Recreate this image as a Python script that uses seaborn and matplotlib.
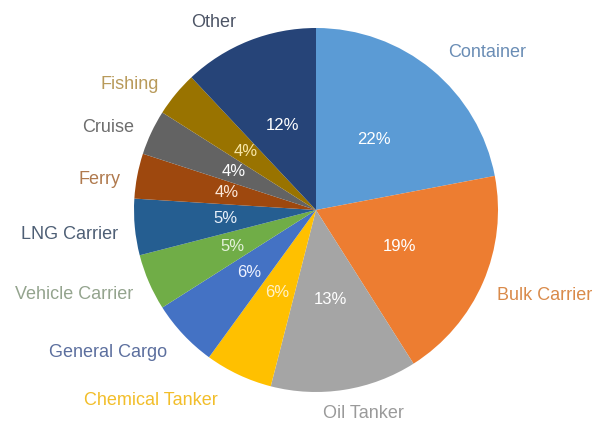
import matplotlib
matplotlib.use("Agg")
import matplotlib.pyplot as plt
import seaborn as sns

categories = ["Container", "Bulk Carrier", "Oil Tanker", "Chemical Tanker", "General Cargo",
              "Vehicle Carrier", "LNG Carrier", "Ferry", "Cruise", "Fishing", "Other"]
shares = [22, 19, 13, 6, 6, 5, 5, 4, 4, 4, 12]
pct_labels = ["22%", "19%", "13%", "6%", "6%", "5%", "5%", "4%", "4%", "4%", "12%"]

slice_colors = ["#5B9BD5", "#ED7D31", "#A5A5A5", "#FFC000", "#4472C4", "#70AD47",
                "#255E91", "#9E480E", "#636363", "#997300", "#264478"]
label_colors = ["#6A8DB5", "#D98A4A", "#9A9A9A", "#F2BE2A", "#5C6F9E", "#94A48E",
                "#4E5F75", "#B07A4E", "#6E6E6E", "#B89A5A", "#4D5566"]
pct_colors = ["white", "white", "white", "#FFF2C8", "#EEF2FF", "#E4F2DA",
              "#E8F0FA", "#FBE8DA", "white", "#F8E7A8", "white"]

# layout nudges for outer labels, in pixels (right, down)
label_nudges = [(4.5, -3), (-2.5, 5.5), (-24, 5.5), (-13, 9), (-3, 5), (0.5, 4.5),
                (1, 6), (1.5, 7.5), (-1, 3), (-3, 2.5), (-6, -1)]

sns.set_theme(style="white")
plt.rcParams["font.family"] = ["Liberation Sans", "DejaVu Sans"]

fig = plt.figure(figsize=(5.95, 4.21), dpi=100)
ax = fig.add_axes([0, 0, 1, 1])

R = 182.0
cx, cy = 316.0, 421 - 210.0

wedges, texts, autotexts = ax.pie(
    shares, labels=categories, colors=slice_colors, startangle=90, counterclock=False,
    autopct="%1.0f%%", pctdistance=0.5, labeldistance=1.1,
    wedgeprops=dict(linewidth=0), textprops=dict(fontsize=12))

for t, c, (dx, dy) in zip(texts, label_colors, label_nudges):
    t.set_color(c)
    t.set_fontsize(13)
    x, y = t.get_position()
    t.set_position((x + dx / R, y - dy / R))
for t, s, c in zip(autotexts, pct_labels, pct_colors):
    t.set_text(s)
    t.set_color(c)
    t.set_fontsize(12)

ax.set_aspect("auto")
ax.set_xlim(-cx / R, (595 - cx) / R)
ax.set_ylim(-cy / R, (421 - cy) / R)
ax.axis("off")

fig.savefig("out.png", dpi=100, facecolor="white")
